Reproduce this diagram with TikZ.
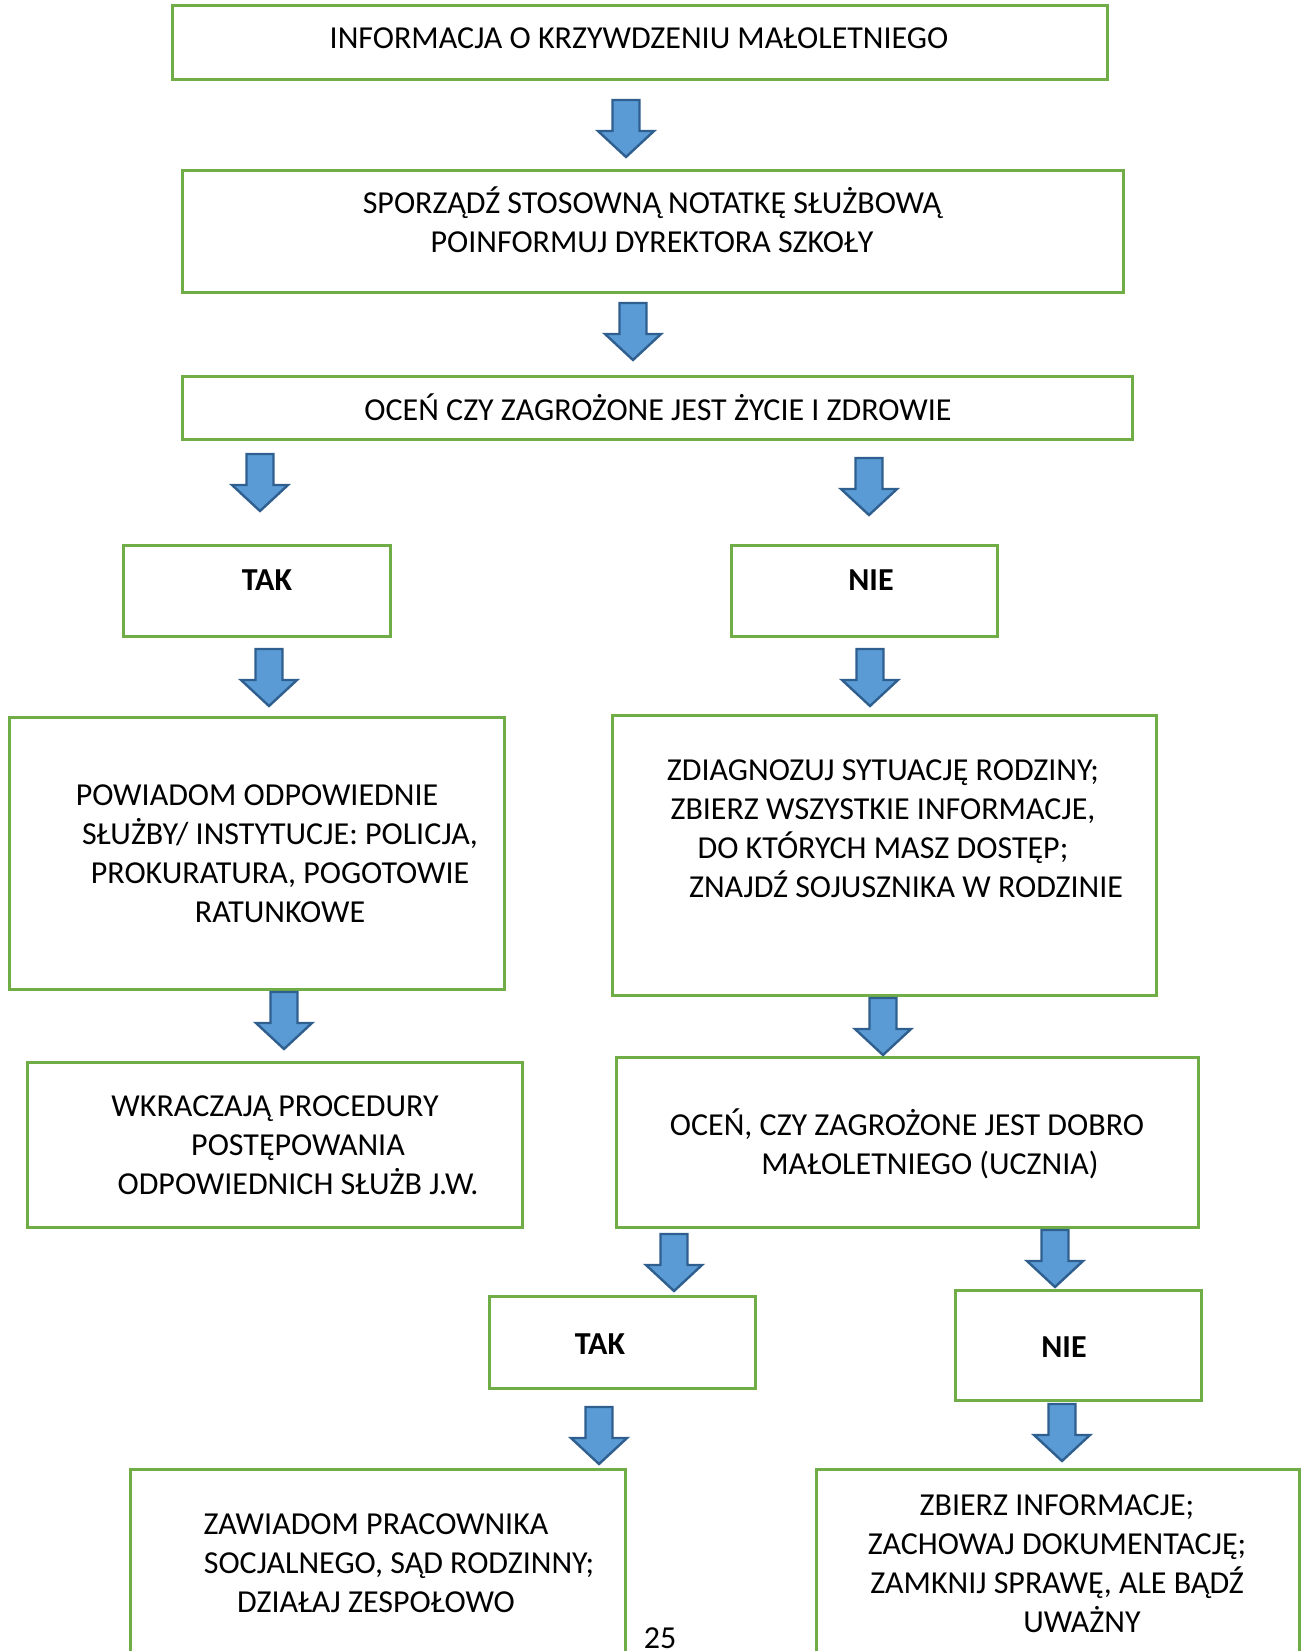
\documentclass[tikz,border=0pt]{standalone}
\usepackage{fontspec}
\setmainfont{Carlito}
\definecolor{boxgreen}{HTML}{70AD47}
\definecolor{arrfill}{HTML}{5B9BD5}
\definecolor{arrdraw}{HTML}{2F5F8F}
\newcommand\blockarrow[2]{%
  \draw[arr, shift={(#1,#2)}] (-13.5,0) -- (13.5,0) -- (13.5,31) -- (28,31) -- (0,57) -- (-28,31) -- (-13.5,31) -- cycle;}
\begin{document}
\begin{tikzpicture}[x=1pt,y=-1pt,
  box/.style={draw=boxgreen, line width=3pt, fill=none, inner sep=0pt},
  txt/.style={align=center, inner sep=0pt, font=\fontsize{32}{39}\selectfont},
  btxt/.style={inner sep=0pt, font=\fontsize{32}{39}\selectfont\bfseries},
  arr/.style={fill=arrfill, draw=arrdraw, line width=2.4pt, line join=miter}]
\useasboundingbox (0,0) rectangle (1306,1651);
\clip (0,0) rectangle (1306,1651);
% boxes
\node[box, minimum width=935pt, minimum height=74pt] (b1) at (639.5,43) {};
\node[txt] (t1) at (639,38) {INFORMACJA O KRZYWDZENIU MAŁOLETNIEGO};
\node[box, minimum width=941pt, minimum height=122pt] (b2) at (652.5,231) {};
\node[txt] (t2) at (652,220) {SPORZĄDŹ STOSOWNĄ NOTATKĘ SŁUŻBOWĄ\\POINFORMUJ DYREKTORA SZKOŁY};
\node[box, minimum width=950pt, minimum height=63pt] (b3) at (657,407.5) {};
\node[txt] (t3) at (658,407) {OCEŃ CZY ZAGROŻONE JEST ŻYCIE I ZDROWIE};
\node[box, minimum width=267pt, minimum height=91pt] (tak1) at (256.5,590.5) {};
\node[btxt] (tt1) at (267,580) {TAK};
\node[box, minimum width=266pt, minimum height=91pt] (nie1) at (864,590.5) {};
\node[btxt] (tn1) at (871,580) {NIE};
\node[box, minimum width=495pt, minimum height=272pt] (pow) at (256.5,853) {};
\node[txt] (tpow) at (280,854) {POWIADOM ODPOWIEDNIE\hspace*{46pt}\\SŁUŻBY/ INSTYTUCJE: POLICJA,\\PROKURATURA, POGOTOWIE\\RATUNKOWE};
\node[box, minimum width=495pt, minimum height=165pt] (wkr) at (274.5,1144.5) {};
\node[txt] (twkr) at (298,1145) {WKRACZAJĄ PROCEDURY\hspace*{46pt}\\POSTĘPOWANIA\\ODPOWIEDNICH SŁUŻB J.W.};
\node[box, minimum width=544pt, minimum height=280pt] (zdi) at (884,855) {};
\node[txt] (tzdi) at (883,829) {ZDIAGNOZUJ SYTUACJĘ RODZINY;\\ZBIERZ WSZYSTKIE INFORMACJE,\\DO KTÓRYCH MASZ DOSTĘP;\\\hspace*{46pt}ZNAJDŹ SOJUSZNIKA W RODZINIE};
\node[box, minimum width=582pt, minimum height=170pt] (oc2) at (907,1142) {};
\node[txt] (toc2) at (907,1144) {OCEŃ, CZY ZAGROŻONE JEST DOBRO\\\hspace*{46pt}MAŁOLETNIEGO (UCZNIA)};
\node[box, minimum width=266pt, minimum height=92pt] (tak2) at (622,1342) {};
\node[btxt] (tt2) at (600,1344) {TAK};
\node[box, minimum width=246pt, minimum height=110pt] (nie2) at (1078,1345) {};
\node[btxt] (tn2) at (1064,1347) {NIE};
\node[box, minimum width=495pt, minimum height=240pt] (zaw) at (377.5,1589) {};
\node[txt] (tzaw) at (376,1563) {ZAWIADOM PRACOWNIKA\\\hspace*{46pt}SOCJALNEGO, SĄD RODZINNY;\\DZIAŁAJ ZESPOŁOWO};
\node[box, minimum width=483pt, minimum height=240pt] (zbi) at (1057.5,1589) {};
\node[txt] (tzbi) at (1057,1564) {ZBIERZ INFORMACJE;\\ZACHOWAJ DOKUMENTACJĘ;\\ZAMKNIJ SPRAWĘ, ALE BĄDŹ\\\hspace*{50pt}UWAŻNY};
\node[txt] (pg) at (660,1638) {25};
% block arrows
\blockarrow{626}{100}
\blockarrow{633}{303}
\blockarrow{260}{454}
\blockarrow{869}{458}
\blockarrow{269}{649}
\blockarrow{870}{649}
\blockarrow{284}{992}
\blockarrow{883}{998}
\blockarrow{674}{1234}
\blockarrow{1055}{1230}
\blockarrow{599}{1407}
\blockarrow{1062}{1404}
\end{tikzpicture}
\end{document}
